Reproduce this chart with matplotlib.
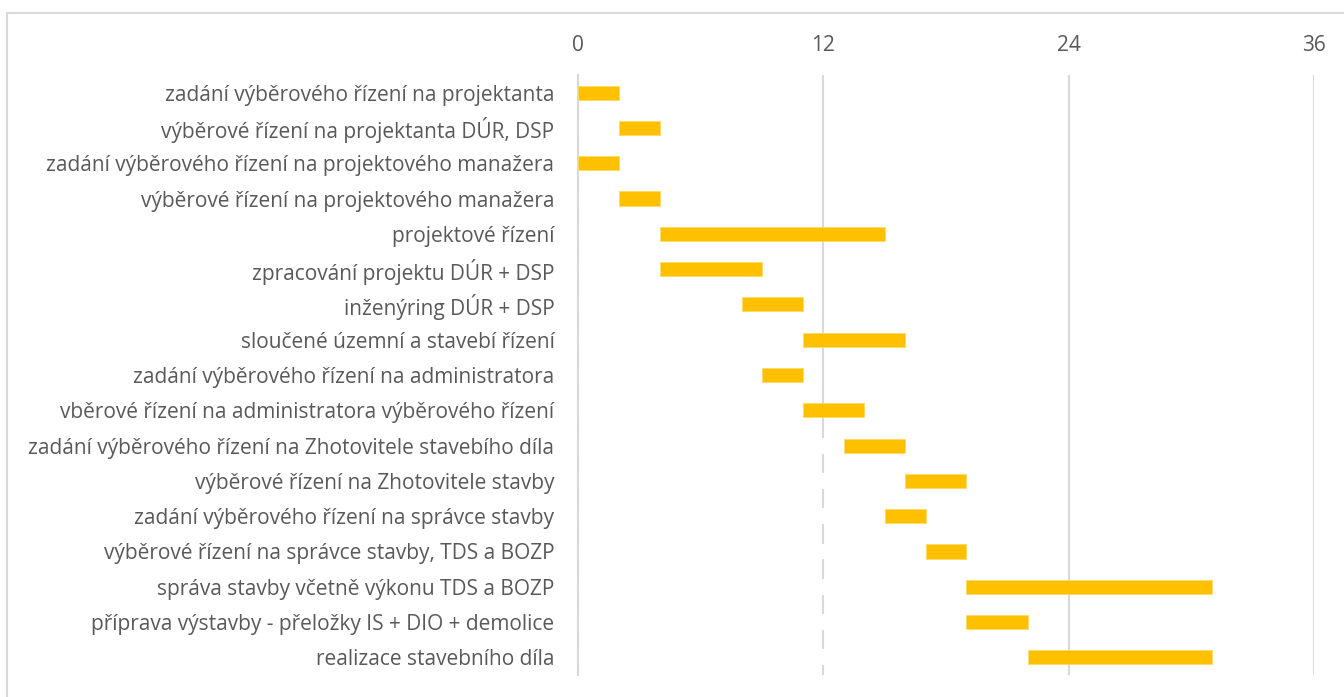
import matplotlib
matplotlib.use("Agg")
import matplotlib.pyplot as plt
from matplotlib.patches import Rectangle

tasks = [
    "zadání výběrového řízení na projektanta",
    "výběrové řízení na projektanta DÚR, DSP",
    "zadání výběrového řízení na projektového manažera",
    "výběrové řízení na projektového manažera",
    "projektové řízení",
    "zpracování projektu DÚR + DSP",
    "inženýring DÚR + DSP",
    "sloučené územní a stavebí řízení",
    "zadání výběrového řízení na administratora",
    "vběrové řízení na administratora výběrového řízení",
    "zadání výběrového řízení na Zhotovitele stavebího díla",
    "výběrové řízení na Zhotovitele stavby",
    "zadání výběrového řízení na správce stavby",
    "výběrové řízení na správce stavby, TDS a BOZP",
    "správa stavby včetně výkonu TDS a BOZP",
    "příprava výstavby - přeložky IS + DIO + demolice",
    "realizace stavebního díla",
]
start = [0, 2, 0, 2, 4, 4, 8, 11, 9, 11, 13, 16, 15, 17, 19, 19, 22]
duration = [2, 2, 2, 2, 11, 5, 3, 5, 2, 3, 3, 3, 2, 2, 12, 3, 9]
xticks = [0, 12, 24, 36]

W, H = 1344, 697
fig = plt.figure(figsize=(W / 100, H / 100), dpi=100)
fig.patch.set_facecolor("white")

# outer chart border (left and top visible)
fig.patches.append(Rectangle((7 / W, -0.1), 1.2, 1 - 13 / H + 0.1,
                             transform=fig.transFigure, fill=False,
                             edgecolor="#d9d9d9", linewidth=1.5))

ax = fig.add_axes([578 / W, 1 - 675 / H, (1314 - 578) / W, (675 - 75) / H])
y = list(range(len(tasks)))
ax.barh(y, start, height=0.45, color="white", zorder=2)
ax.barh(y, duration, left=start, height=0.4, color="#FFC000",
        edgecolor="#FFD966", linewidth=0.6, zorder=3)

ax.set_xlim(0, 36)
ax.set_ylim(len(tasks) - 0.5, -0.5)
ax.set_xticks(xticks)
ax.xaxis.tick_top()
ax.set_yticks(y)
ax.set_yticklabels(tasks)
ax.tick_params(axis="both", length=0, colors="#595959", labelsize=15)
ax.tick_params(axis="x", pad=14)
ax.tick_params(axis="y", pad=17)
for lab in ax.get_xticklabels() + ax.get_yticklabels():
    lab.set_fontfamily("Open Sans")
    lab.set_color("#595959")
ax.grid(axis="x", color="#d9d9d9", linewidth=1.5, zorder=1)
ax.set_axisbelow(True)
for name, s in ax.spines.items():
    if name == "left":
        s.set_color("#d9d9d9")
        s.set_linewidth(1.5)
        s.set_zorder(2.5)
    else:
        s.set_visible(False)

fig.savefig("out.png", dpi=100, facecolor="white")
